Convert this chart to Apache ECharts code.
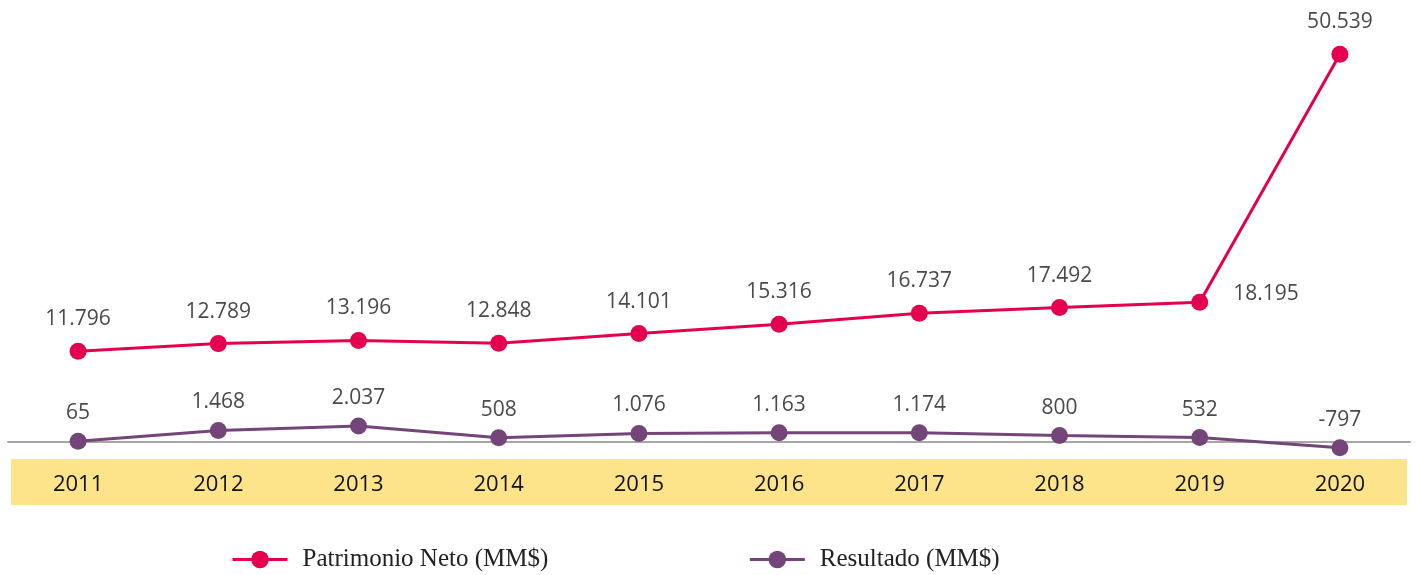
<!DOCTYPE html>
<html>
<head>
<meta charset="utf-8">
<script src="https://cdn.jsdelivr.net/npm/echarts@6.0.0/dist/echarts.min.js"></script>
<style>
  html, body { margin: 0; padding: 0; background: #ffffff; }
  #chart { width: 1419px; height: 575px; }
</style>
</head>
<body>
<div id="chart"></div>
<script>
// datos
const years = ['2011', '2012', '2013', '2014', '2015', '2016', '2017', '2018', '2019', '2020'];
const patrimonioNeto = [11796, 12789, 13196, 12848, 14101, 15316, 16737, 17492, 18195, 50539];
const resultado = [65, 1468, 2037, 508, 1076, 1163, 1174, 800, 532, -797];

const colorPatrimonio = '#e5004f';
const colorResultado = '#744578';

// 11796 -> 11.796
function fmt(v) {
    const s = Math.abs(v).toString().replace(/\B(?=(\d{3})+(?!\d))/g, '.');
    return (v < 0 ? '-' : '') + s;
}

const chart = echarts.init(document.getElementById('chart'));

const labelStyle = {
    show: true,
    position: 'top',
    distance: 13,
    fontFamily: 'Open Sans',
    fontSize: 21,
    color: '#4a4a4a',
    formatter: p => fmt(p.value)
};

const option = {
    animation: false,
    legend: {
        top: 542,
        left: 226,
        itemWidth: 55,
        itemHeight: 22,
        itemGap: 200,
        textStyle: {
            fontFamily: 'Liberation Serif',
            fontSize: 25,
            color: '#222',
            padding: [0, 0, 0, 10]
        },
        data: [
            { name: 'Patrimonio Neto (MM$)', itemStyle: { color: colorPatrimonio }, lineStyle: { width: 3, color: colorPatrimonio } },
            { name: 'Resultado (MM$)', itemStyle: { color: colorResultado }, lineStyle: { width: 3, color: colorResultado } }
        ]
    },
    grid: {
        left: 8,
        right: 9,
        top: 20,
        bottom: 118
    },
    graphic: [{
        type: 'rect',
        z: -1,
        shape: { x: 11, y: 459, width: 1396, height: 46 },
        style: { fill: '#fde38a' }
    }],
    xAxis: {
        type: 'category',
        data: years,
        boundaryGap: true,
        axisLine: { onZero: true, lineStyle: { color: '#a6a6a6', width: 2 } },
        axisTick: { show: false },
        axisLabel: {
            margin: 17,
            fontFamily: 'Open Sans',
            fontSize: 22,
            color: '#111'
        }
    },
    yAxis: {
        type: 'value',
        min: -2000,
        max: 55000,
        show: false,
        splitLine: { show: false }
    },
    series: [
        {
            name: 'Patrimonio Neto (MM$)',
            type: 'line',
            data: patrimonioNeto.map((v, i) => {
                if (i === 8) {
                    return { value: v, label: { position: 'right', offset: [12, -8] } };
                }
                return v;
            }),
            color: colorPatrimonio,
            symbol: 'circle',
            symbolSize: 17,
            lineStyle: { width: 3, color: colorPatrimonio },
            itemStyle: { color: colorPatrimonio },
            label: labelStyle
        },
        {
            name: 'Resultado (MM$)',
            type: 'line',
            data: resultado,
            color: colorResultado,
            symbol: 'circle',
            symbolSize: 17,
            lineStyle: { width: 3, color: colorResultado },
            itemStyle: { color: colorResultado },
            label: Object.assign({}, labelStyle, { distance: 9 })
        }
    ]
};

chart.setOption(option);
</script>
</body>
</html>
